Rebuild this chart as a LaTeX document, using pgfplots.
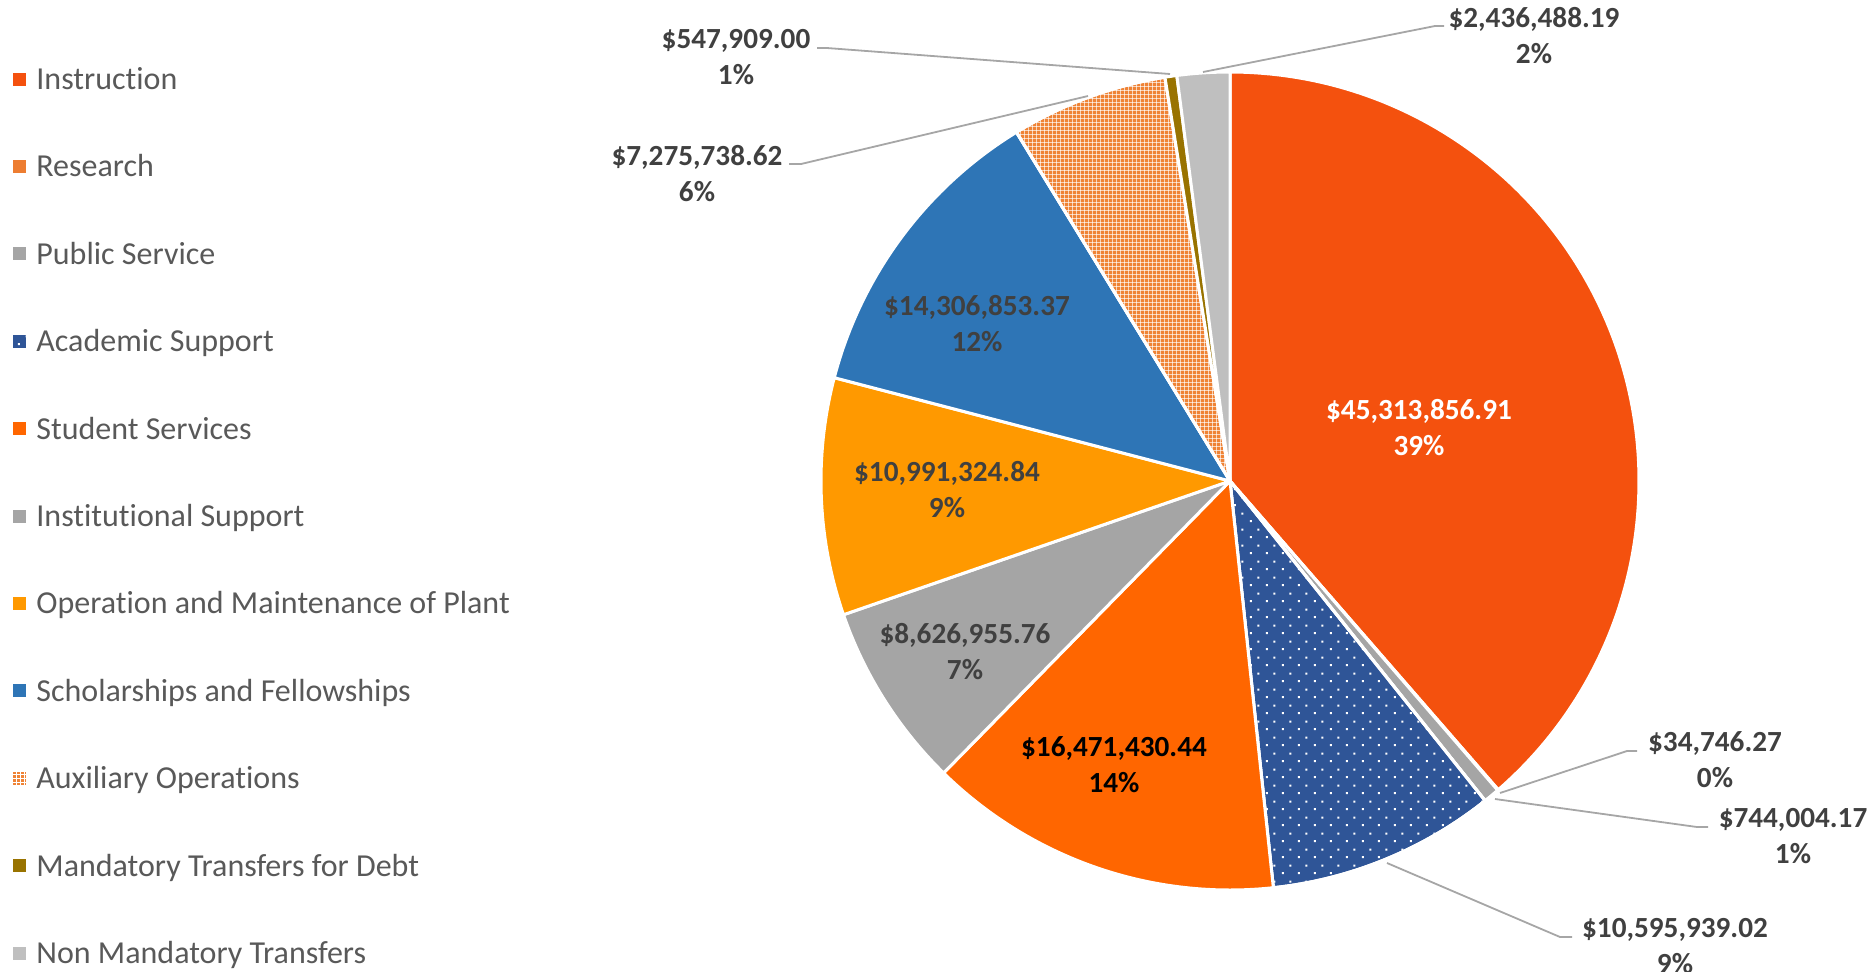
\documentclass[border=0pt]{standalone}
\usepackage{fontspec}
\setmainfont{Carlito}[Ligatures={NoCommon,NoRequired,NoContextual}]
\usepackage{pgfplots}
\usepackage{pgfplotstable}
\pgfplotsset{compat=1.18}
\usetikzlibrary{patterns}

\definecolor{cInst}{HTML}{F4510E}
\definecolor{cRes}{HTML}{ED7D31}
\definecolor{cPub}{HTML}{A5A5A5}
\definecolor{cAca}{HTML}{2F5597}
\definecolor{cStu}{HTML}{FF6600}
\definecolor{cIns}{HTML}{A5A5A5}
\definecolor{cOpe}{HTML}{FF9900}
\definecolor{cSch}{HTML}{2E75B6}
\definecolor{cAux}{HTML}{EF8335}
\definecolor{cMan}{HTML}{997300}
\definecolor{cNon}{HTML}{BFBFBF}
\definecolor{cLeg}{HTML}{595959}
\definecolor{cLab}{HTML}{404040}
\definecolor{cLead}{HTML}{A6A6A6}

\pgfdeclarepatternformonly{xdots}{\pgfqpoint{0pt}{0pt}}{\pgfqpoint{8pt}{8pt}}{\pgfqpoint{8pt}{8pt}}{%
  \pgfpathrectangle{\pgfqpoint{1pt}{1pt}}{\pgfqpoint{1pt}{1pt}}%
  \pgfpathrectangle{\pgfqpoint{5pt}{5pt}}{\pgfqpoint{1pt}{1pt}}%
  \pgfusepath{fill}}
\pgfdeclarepatternformonly{xgrid}{\pgfqpoint{0pt}{0pt}}{\pgfqpoint{2.2pt}{2.2pt}}{\pgfqpoint{2.2pt}{2.2pt}}{%
  \pgfpathrectangle{\pgfqpoint{0pt}{0pt}}{\pgfqpoint{2.2pt}{0.42pt}}%
  \pgfpathrectangle{\pgfqpoint{0pt}{0pt}}{\pgfqpoint{0.42pt}{2.2pt}}%
  \pgfusepath{fill}}

% expenditure values (dollars), clockwise from 12 o'clock
\pgfplotstableread{
value
45313856.91
34746.27
744004.17
10595939.02
16471430.44
8626955.76
10991324.84
14306853.37
7275738.62
547909.00
2436488.19
}\piedata

\xdef\pietot{0}
\foreach \i in {0,...,10}{%
  \pgfplotstablegetelem{\i}{value}\of\piedata
  \xdef\pietot{\fpeval{\pietot+\pgfplotsretval}}}
\xdef\piecum{0}
\foreach \i in {0,...,10}{%
  \pgfplotstablegetelem{\i}{value}\of\piedata
  \expandafter\xdef\csname pieS\i\endcsname{\fpeval{round(90-360*\piecum/\pietot,4)}}%
  \xdef\piecum{\fpeval{\piecum+\pgfplotsretval}}%
  \expandafter\xdef\csname pieE\i\endcsname{\fpeval{round(90-360*\piecum/\pietot,4)}}}
\newcommand\pS[1]{\csname pieS#1\endcsname}
\newcommand\pE[1]{\csname pieE#1\endcsname}

\newcommand\labfont{\fontsize{14.6}{17}\selectfont\bfseries}
\newcommand\legfont{\fontsize{16}{19}\selectfont}

\newcommand\slice[3]{%
  \addplot[fill=#2, draw=white, line width=1.5pt, line join=round, domain=\pE{#1}:\pS{#1}, samples=150, #3]
    ({1230+409*cos(x)},{481-409*sin(x)}) -- (axis cs:1230,481) -- cycle;}

\newcommand\legitem[4]{%
  \node[fill=#2, minimum size=6.5pt, inner sep=0pt, #4] at (axis cs:19.5,{79+87.4*#1}) {};
  \node[anchor=base west, inner sep=0pt, text=cLeg, font=\legfont] at (axis cs:36,{89.5+87.4*#1}) {#3};}

\newcommand\dlab[5]{%
  \node[anchor=base, inner sep=0pt, text=#5, font=\labfont] at (axis cs:#1,#2) {#3};
  \node[anchor=base, inner sep=0pt, text=#5, font=\labfont] at (axis cs:#1,{#2+36}) {#4};}

\begin{document}
\begin{tikzpicture}
\begin{axis}[
  scale only axis, width=937.5pt, height=485.5pt,
  xmin=0, xmax=1875, ymin=0, ymax=971, y dir=reverse,
  hide axis, clip=false,
]
\slice{0}{cInst}{}
\slice{1}{cRes}{}
\slice{2}{cPub}{}
\slice{3}{cAca}{postaction={pattern=xdots, pattern color=white}}
\slice{4}{cStu}{}
\slice{5}{cIns}{}
\slice{6}{cOpe}{}
\slice{7}{cSch}{}
\slice{8}{cAux}{postaction={pattern=xgrid, pattern color=white}}
\slice{9}{cMan}{}
\slice{10}{cNon}{}

% leader lines
\addplot[cLead, line width=0.9pt] coordinates {(1637,751) (1627,751) (1500,793)};
\addplot[cLead, line width=0.9pt] coordinates {(1708,827) (1697,827) (1495,799)};
\addplot[cLead, line width=0.9pt] coordinates {(1572,937) (1560,937) (1387,863)};
\addplot[cLead, line width=0.9pt] coordinates {(1444,26) (1435,26) (1203,72)};
\addplot[cLead, line width=0.9pt] coordinates {(817,48) (827,48) (1170,74)};
\addplot[cLead, line width=0.9pt] coordinates {(789,164) (801,164) (1088,96)};

% data labels
\dlab{1419}{419}{\$45,313,856.91}{39\%}{white}
\dlab{1114}{756}{\$16,471,430.44}{14\%}{black}
\dlab{947}{481}{\$10,991,324.84}{9\%}{cLab}
\dlab{965}{643}{\$8,626,955.76}{7\%}{cLab}
\dlab{977}{315}{\$14,306,853.37}{12\%}{cLab}
\dlab{1715}{751}{\$34,746.27}{0\%}{cLab}
\dlab{1793}{827}{\$744,004.17}{1\%}{cLab}
\dlab{1675}{937}{\$10,595,939.02}{9\%}{cLab}
\dlab{1534}{27}{\$2,436,488.19}{2\%}{cLab}
\dlab{736}{48}{\$547,909.00}{1\%}{cLab}
\dlab{697}{165}{\$7,275,738.62}{6\%}{cLab}

% legend
\legitem{0}{cInst}{Instruction}{}
\legitem{1}{cRes}{Research}{}
\legitem{2}{cPub}{Public Service}{}
\legitem{3}{cAca}{Academic Support}{postaction={pattern=xdots, pattern color=white}}
\legitem{4}{cStu}{Student Services}{}
\legitem{5}{cIns}{Institutional Support}{}
\legitem{6}{cOpe}{Operation and Maintenance of Plant}{}
\legitem{7}{cSch}{Scholarships and Fellowships}{}
\legitem{8}{cAux}{Auxiliary Operations}{postaction={pattern=xgrid, pattern color=white}}
\legitem{9}{cMan}{Mandatory Transfers for Debt}{}
\legitem{10}{cNon}{Non Mandatory Transfers}{}
\end{axis}
\pgfresetboundingbox
\path[use as bounding box] (0,0) rectangle (937.5pt,485.5pt);
\end{tikzpicture}
\end{document}
